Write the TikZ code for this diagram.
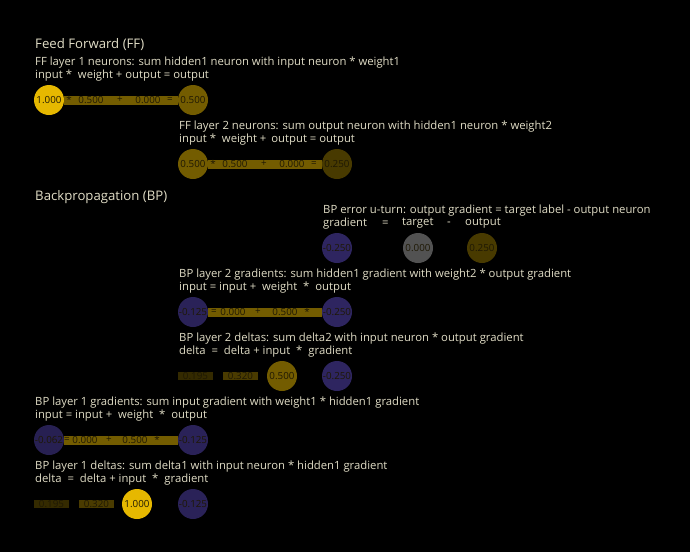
\documentclass[tikz,border=0pt]{standalone}
\usepackage{fontspec}
\setmainfont{Open Sans}
\definecolor{labelc}{RGB}{225,221,198}
\definecolor{numc}{RGB}{30,24,4}
\definecolor{act100}{RGB}{230,184,0}
\definecolor{act050}{RGB}{115,92,0}
\definecolor{act025}{RGB}{72,58,0}
\definecolor{act032}{RGB}{74,59,0}
\definecolor{act019}{RGB}{52,42,0}
\definecolor{neg025}{RGB}{46,37,96}
\definecolor{neg012}{RGB}{42,34,88}
\definecolor{neg006}{RGB}{39,32,82}
\definecolor{zeroc}{RGB}{82,82,82}
\definecolor{barc}{RGB}{115,92,0}
\begin{document}
\begin{tikzpicture}[x=1pt,y=-1pt,
  lbl/.style={anchor=west, text=labelc, inner sep=0pt, font=\fontsize{11.3}{12}\selectfont},
  head/.style={lbl, font=\fontsize{13.2}{14}\selectfont},
  neuron/.style={circle, minimum size=30pt, inner sep=0pt, text=numc, font=\fontsize{9.8}{9.8}\selectfont},
  bartxt/.style={inner sep=0pt, text=numc, font=\fontsize{9.8}{9.8}\selectfont},
  link/.style={line width=9pt, draw=barc},
  cell/.style={rectangle, minimum width=35pt, minimum height=8.5pt, inner sep=0pt, text=numc, font=\fontsize{9.8}{9.8}\selectfont}]
\fill[black] (0,0) rectangle (690,552);
\useasboundingbox (0,0) rectangle (690,552);

% ---------------- Feed forward ----------------
\node[head] (ffhead) at (35,45) {Feed Forward (FF)};

% layer 1
\node[lbl] (ff1a) at (35,63) {FF layer 1 neurons: sum hidden1 neuron with input neuron * weight1};
\node[lbl] (ff1b) at (35,75.5) {input *\hspace{3pt} weight + output = output};
\node[neuron, fill=act100] (ff1in) at (49,100) {1.000};
\node[neuron, fill=act050] (ff1out) at (193,100) {0.500};
\draw[link] (ff1in) -- (ff1out);
\node[bartxt] (ff1t1) at (69,100) {*};
\node[bartxt] (ff1t2) at (91,100) {0.500};
\node[bartxt] (ff1t3) at (120,100) {+};
\node[bartxt] (ff1t4) at (148,100) {0.000};
\node[bartxt] (ff1t5) at (170,100) {=};

% layer 2
\node[lbl] (ff2a) at (179,127) {FF layer 2 neurons: sum output neuron with hidden1 neuron * weight2};
\node[lbl] (ff2b) at (179,139.5) {input *\hspace{3pt} weight +\hspace{2pt} output = output};
\node[neuron, fill=act050] (ff2in) at (193,164) {0.500};
\node[neuron, fill=act025] (ff2out) at (337,164) {0.250};
\draw[link] (ff2in) -- (ff2out);
\node[bartxt] (ff2t1) at (213,164) {*};
\node[bartxt] (ff2t2) at (235,164) {0.500};
\node[bartxt] (ff2t3) at (264,164) {+};
\node[bartxt] (ff2t4) at (292,164) {0.000};
\node[bartxt] (ff2t5) at (314,164) {=};

% ---------------- Backpropagation ----------------
\node[head] (bphead) at (35,197) {Backpropagation (BP)};

% error u-turn
\node[lbl] (erra) at (323,211) {BP error u-turn: output gradient = target label - output neuron};
\node[lbl] (errb1) at (323,223.5) {gradient};
\node[lbl] (errb2) at (382,223.5) {=};
\node[lbl] (errb3) at (402,223.5) {target};
\node[lbl] (errb4) at (447,223.5) {-};
\node[lbl] (errb5) at (465,223.5) {output};
\node[neuron, fill=neg025] (errgrad) at (337,248) {-0.250};
\node[neuron, fill=zeroc] (errtarget) at (418,248) {0.000};
\node[neuron, fill=act025] (errout) at (482,248) {0.250};

% layer 2 gradients
\node[lbl] (g2a) at (179,275) {BP layer 2 gradients: sum hidden1 gradient with weight2 * output gradient};
\node[lbl] (g2b) at (179,287.5) {input = input +\hspace{3pt} weight\hspace{3pt} *\hspace{3pt} output};
\node[neuron, fill=neg012] (g2in) at (193,312) {-0.125};
\node[neuron, fill=neg025] (g2out) at (337,312) {-0.250};
\draw[link] (g2in) -- (g2out);
\node[bartxt] (g2t1) at (214,312) {=};
\node[bartxt] (g2t2) at (233,312) {0.000};
\node[bartxt] (g2t3) at (258,312) {+};
\node[bartxt] (g2t4) at (285,312) {0.500};
\node[bartxt] (g2t5) at (307,312) {*};

% layer 2 deltas
\node[lbl] (d2a) at (179,339) {BP layer 2 deltas: sum delta2 with input neuron * output gradient};
\node[lbl] (d2b) at (179,351.5) {delta\hspace{3pt} =\hspace{3pt} delta + input\hspace{3pt} *\hspace{3pt} gradient};
\node[cell, fill=act019] (d2c1) at (195.5,376) {0.195};
\node[cell, fill=act032] (d2c2) at (240.5,376) {0.320};
\node[neuron, fill=act050] (d2in) at (282,376) {0.500};
\node[neuron, fill=neg025] (d2grad) at (337,376) {-0.250};

% layer 1 gradients
\node[lbl] (g1a) at (35,403) {BP layer 1 gradients: sum input gradient with weight1 * hidden1 gradient};
\node[lbl] (g1b) at (35,415.5) {input = input +\hspace{3pt} weight\hspace{3pt} *\hspace{3pt} output};
\node[neuron, fill=neg006] (g1in) at (49,440) {-0.062};
\node[neuron, fill=neg012] (g1out) at (193,440) {-0.125};
\draw[link] (g1in) -- (g1out);
\node[bartxt] (g1t1) at (67,440) {=};
\node[bartxt] (g1t2) at (85,440) {0.000};
\node[bartxt] (g1t3) at (109,440) {+};
\node[bartxt] (g1t4) at (135,440) {0.500};
\node[bartxt] (g1t5) at (157,440) {*};

% layer 1 deltas
\node[lbl] (d1a) at (35,467) {BP layer 1 deltas: sum delta1 with input neuron * hidden1 gradient};
\node[lbl] (d1b) at (35,479.5) {delta\hspace{3pt} =\hspace{3pt} delta + input\hspace{3pt} *\hspace{3pt} gradient};
\node[cell, fill=act019] (d1c1) at (51.5,504) {0.195};
\node[cell, fill=act032] (d1c2) at (96.5,504) {0.320};
\node[neuron, fill=act100] (d1in) at (137,504) {1.000};
\node[neuron, fill=neg012] (d1grad) at (193,504) {-0.125};
\end{tikzpicture}
\end{document}
